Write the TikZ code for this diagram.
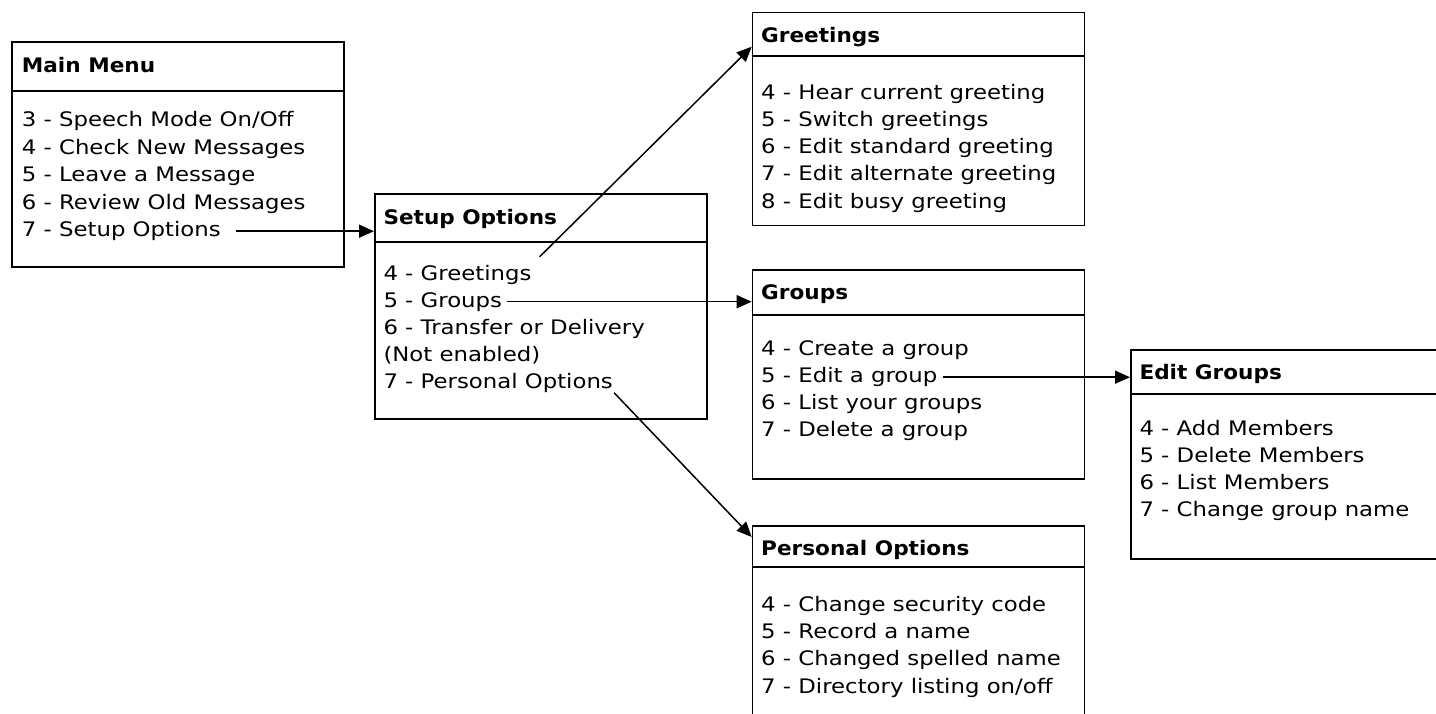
\documentclass[tikz,border=0pt]{standalone}
\usepackage{fontspec}
\setmainfont{DejaVu Sans}[FakeStretch=1.14, BoldFeatures={FakeStretch=1.08}]
\usetikzlibrary{arrows.meta}
\begin{document}
\begin{tikzpicture}[x=1pt,y=-1pt,
 box/.style={draw, line width=1.5pt, anchor=north west, inner sep=0pt, minimum width=332pt},
 ttl/.style={anchor=base west, inner sep=0pt, font=\fontsize{20}{24}\selectfont\bfseries, text height=15pt, text depth=4pt},
 itm/.style={anchor=base west, inner sep=0pt, font=\fontsize{20}{24}\selectfont, text height=15pt, text depth=4pt},
 hdr/.style={line width=2.2pt},
 link/.style={line width=1.5pt, -{Triangle[length=15pt,width=13pt]}}]
\useasboundingbox (0,0) rectangle (1436,714);
\clip (0,0) rectangle (1436,714);

% Main Menu
\node[box, minimum height=225pt] (main) at (11,41.5) {};
\draw[hdr] ([yshift=-49.5pt]main.north west) -- ([yshift=-49.5pt]main.north east);
\node[ttl] (mt) at (21.7,72.7) {Main Menu};
\node[itm] (m3) at (21.7,126.7) {3 - Speech Mode On/Off};
\node[itm] (m4) at (21.7,154.2) {4 - Check New Messages};
\node[itm] (m5) at (21.7,181.7) {5 - Leave a Message};
\node[itm] (m6) at (21.7,209.2) {6 - Review Old Messages};
\node[itm] (m7) at (21.7,236.7) {7 - Setup Options};

% Setup Options
\node[box, minimum height=225pt] (setup) at (374,193.3) {};
\draw[hdr] ([yshift=-48.7pt]setup.north west) -- ([yshift=-48.7pt]setup.north east);
\node[ttl] (st) at (383.3,224.3) {Setup Options};
\node[itm] (s4) at (383.3,280) {4 - Greetings};
\node[itm] (s5) at (383.3,307.2) {5 - Groups};
\node[itm] (s6) at (383.3,334.3) {6 - Transfer or Delivery};
\node[itm] (s6b) at (383.3,361.4) {(Not enabled)};
\node[itm] (s7) at (383.3,388.5) {7 - Personal Options};

% Greetings
\node[box, minimum height=213.3pt] (gre) at (751.7,11.7) {};
\draw[hdr] ([yshift=-44.3pt]gre.north west) -- ([yshift=-44.3pt]gre.north east);
\node[ttl] (gt) at (761,42.7) {Greetings};
\node[itm] (g4) at (761,99.3) {4 - Hear current greeting};
\node[itm] (g5) at (761,126.5) {5 - Switch greetings};
\node[itm] (g6) at (761,153.8) {6 - Edit standard greeting};
\node[itm] (g7) at (761,181) {7 - Edit alternate greeting};
\node[itm] (g8) at (761,208.3) {8 - Edit busy greeting};

% Groups
\node[box, minimum height=209pt] (grp) at (751.7,269.3) {};
\draw[hdr] ([yshift=-45.7pt]grp.north west) -- ([yshift=-45.7pt]grp.north east);
\node[ttl] (grt) at (761,300) {Groups};
\node[itm] (r4) at (761,355.7) {4 - Create a group};
\node[itm] (r5) at (761,382.7) {5 - Edit a group};
\node[itm] (r6) at (761,409.7) {6 - List your groups};
\node[itm] (r7) at (761,436.7) {7 - Delete a group};

% Edit Groups
\node[box, minimum height=209.3pt] (edit) at (1130,349) {};
\draw[hdr] ([yshift=-45pt]edit.north west) -- ([yshift=-45pt]edit.north east);
\node[ttl] (et) at (1139.3,379.3) {Edit Groups};
\node[itm] (e4) at (1139.3,435) {4 - Add Members};
\node[itm] (e5) at (1139.3,462.2) {5 - Delete Members};
\node[itm] (e6) at (1139.3,489.4) {6 - List Members};
\node[itm] (e7) at (1139.3,516.7) {7 - Change group name};

% Personal Options
\node[box, minimum height=215pt] (per) at (751.7,525) {};
\draw[hdr] ([yshift=-42.3pt]per.north west) -- ([yshift=-42.3pt]per.north east);
\node[ttl] (pt) at (761,555) {Personal Options};
\node[itm] (p4) at (761,611) {4 - Change security code};
\node[itm] (p5) at (761,638.4) {5 - Record a name};
\node[itm] (p6) at (761,665.8) {6 - Changed spelled name};
\node[itm] (p7) at (761,693.3) {7 - Directory listing on/off};

% connectors
\draw[link] ([xshift=15pt]m7.east) -- (setup.west |- m7.east);
\draw[link] ([xshift=8pt,yshift=8pt]s4.north east) -- ([yshift=-35pt]gre.north west);
\draw[link] ([xshift=5pt]s5.east) -- (grp.west |- s5.east);
\draw[link] ([xshift=1pt]s7.south east) -- ([yshift=-12pt]per.north west);
\draw[link] ([xshift=6pt]r5.east) -- (edit.west |- r5.east);
\end{tikzpicture}
\end{document}
